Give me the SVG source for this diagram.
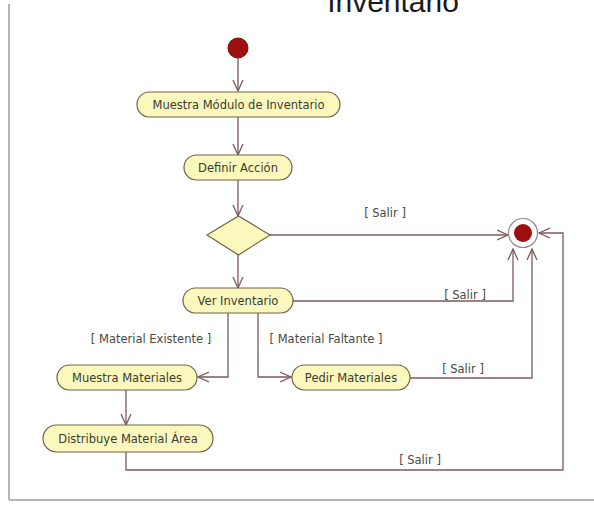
<svg xmlns="http://www.w3.org/2000/svg" width="594" height="505" viewBox="0 0 594 505">
  <style>
    .node rect, .node polygon { fill: #fbf8bd; stroke: #6e6448; stroke-width: 1.2; }
    .node text { font-family: "DejaVu Sans", "Liberation Sans", sans-serif; font-size: 11.5px; fill: #3c3c32; text-anchor: middle; }
    .guard { font-family: "DejaVu Sans", "Liberation Sans", sans-serif; font-size: 11.5px; fill: #4a4a44; text-anchor: middle; }
    .edge { fill: none; stroke: #7c5a5e; stroke-width: 1.3; marker-end: url(#open); }
    .title { font-family: "Liberation Sans", Arial, sans-serif; font-size: 30px; fill: #1a1a1a; text-anchor: middle; }
  </style>
  <defs>
    <marker id="open" viewBox="0 0 12 12" refX="11" refY="6" markerWidth="12" markerHeight="12" markerUnits="userSpaceOnUse" orient="auto">
      <path d="M0,1 L11,6 L0,11" fill="none" stroke="#7c5a5e" stroke-width="1.3"/>
    </marker>
  </defs>

  <rect x="0" y="0" width="594" height="505" fill="#ffffff"/>
  <!-- frame edges -->
  <line x1="9" y1="4" x2="9" y2="500" stroke="#b4b4b4" stroke-width="2"/>
  <line x1="9" y1="500" x2="594" y2="500" stroke="#b4b4b4" stroke-width="2"/>

  <text class="title" x="393" y="12">Inventario</text>

  <!-- connectors -->
  <g id="connectors">
    <path class="edge" d="M238,58 V91"/>
    <path class="edge" d="M238,117 V155"/>
    <path class="edge" d="M238,180 V216"/>
    <path class="edge" d="M270,235 H508"/>
    <path class="edge" d="M238,255 V288"/>
    <path class="edge" d="M293,301 H513 V249"/>
    <path class="edge" d="M228,313 V377 H198"/>
    <path class="edge" d="M258,313 V377 H291"/>
    <path class="edge" d="M410,378 H532 V249"/>
    <path class="edge" d="M126,390 V425"/>
    <path class="edge" d="M126,452 V470 H563 V233 H539"/>
    <text class="guard" x="385" y="217">[ Salir ]</text>
    <text class="guard" x="465" y="299">[ Salir ]</text>
    <text class="guard" x="151" y="343">[ Material Existente ]</text>
    <text class="guard" x="326" y="343">[ Material Faltante ]</text>
    <text class="guard" x="463" y="373">[ Salir ]</text>
    <text class="guard" x="420" y="464">[ Salir ]</text>
  </g>

  <g id="start">
    <circle cx="238" cy="48" r="10" fill="#9c1010" stroke="#7a0d0d" stroke-width="1"/>
  </g>

  <g id="end">
    <circle cx="523" cy="233" r="14.5" fill="#ffffff" stroke="#8a8a8a" stroke-width="1.2"/>
    <circle cx="523" cy="233" r="9" fill="#9c1010"/>
  </g>

  <g id="muestra-modulo" class="node">
    <rect x="137" y="92" width="203" height="25" rx="12.5"/>
    <text x="238.5" y="108.5">Muestra Módulo de Inventario</text>
  </g>

  <g id="definir-accion" class="node">
    <rect x="184" y="155" width="108" height="25" rx="12.5"/>
    <text x="238" y="171.5">Definir Acción</text>
  </g>

  <g id="decision" class="node">
    <polygon points="207,235 238.5,216 270,235 238.5,255"/>
  </g>

  <g id="ver-inventario" class="node">
    <rect x="183" y="288" width="110" height="25" rx="12.5"/>
    <text x="238" y="304.5">Ver Inventario</text>
  </g>

  <g id="muestra-materiales" class="node">
    <rect x="57" y="365" width="140" height="25" rx="12.5"/>
    <text x="127" y="381.5">Muestra Materiales</text>
  </g>

  <g id="pedir-materiales" class="node">
    <rect x="292" y="365" width="118" height="25" rx="12.5"/>
    <text x="351" y="381.5">Pedir Materiales</text>
  </g>

  <g id="distribuye-material" class="node">
    <rect x="43" y="425" width="170" height="27" rx="13.5"/>
    <text x="128" y="442.5">Distribuye Material Área</text>
  </g>
</svg>
